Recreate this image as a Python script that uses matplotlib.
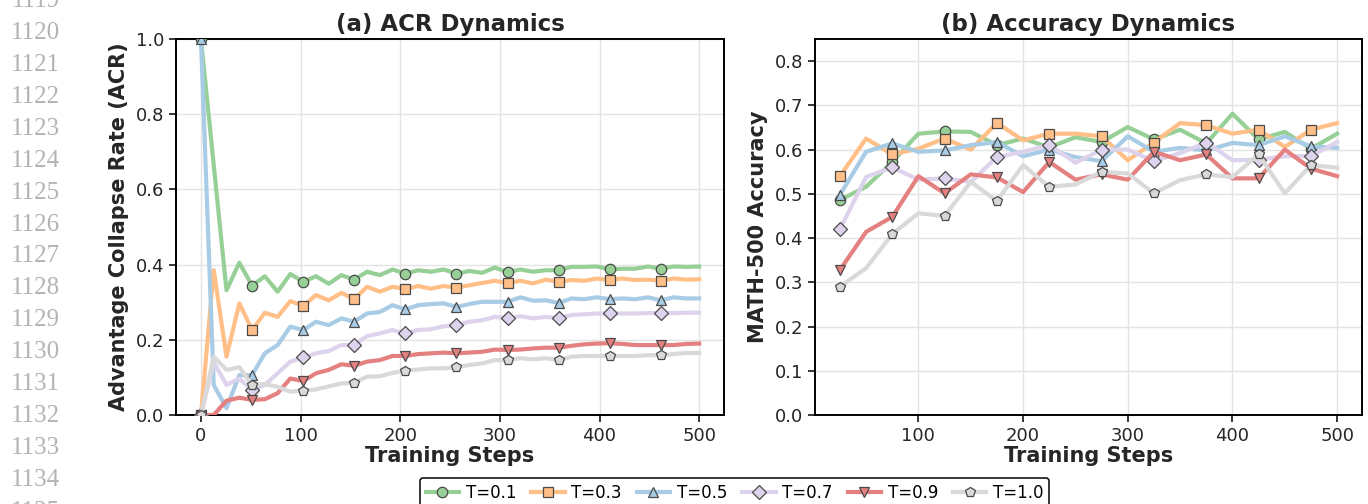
import matplotlib
matplotlib.use("Agg")
import matplotlib.pyplot as plt

plt.rcParams['font.family'] = ['DejaVu Sans']

# ── Data ──────────────────────────────────────────────────────────────────────
acr_steps = [0, 12.8, 25.6, 38.5, 51.3, 64.1, 76.9, 89.7, 102.6, 115.4,
             128.2, 141.0, 153.8, 166.7, 179.5, 192.3, 205.1, 217.9, 230.8, 243.6,
             256.4, 269.2, 282.1, 294.9, 307.7, 320.5, 333.3, 346.2, 359.0, 371.8,
             384.6, 397.4, 410.3, 423.1, 435.9, 448.7, 461.5, 474.4, 487.2, 500]

acr_01 = [1.0, 0.665, 0.332, 0.405, 0.344, 0.369, 0.328, 0.375, 0.354, 0.369,
          0.349, 0.372, 0.360, 0.381, 0.372, 0.387, 0.376, 0.385, 0.381, 0.387,
          0.376, 0.383, 0.378, 0.392, 0.380, 0.387, 0.381, 0.385, 0.385, 0.394,
          0.394, 0.395, 0.387, 0.389, 0.389, 0.395, 0.389, 0.395, 0.394, 0.395]
acr_03 = [0.0, 0.385, 0.155, 0.297, 0.226, 0.272, 0.261, 0.303, 0.290, 0.319,
          0.305, 0.325, 0.308, 0.341, 0.328, 0.341, 0.335, 0.343, 0.336, 0.343,
          0.339, 0.345, 0.351, 0.357, 0.350, 0.357, 0.350, 0.360, 0.354, 0.359,
          0.357, 0.363, 0.359, 0.363, 0.359, 0.360, 0.357, 0.363, 0.360, 0.361]
acr_05 = [1.0, 0.080, 0.018, 0.106, 0.106, 0.164, 0.186, 0.235, 0.226, 0.248,
          0.239, 0.257, 0.248, 0.270, 0.274, 0.292, 0.281, 0.292, 0.295, 0.297,
          0.287, 0.295, 0.301, 0.301, 0.301, 0.313, 0.304, 0.305, 0.298, 0.310,
          0.308, 0.313, 0.308, 0.310, 0.308, 0.313, 0.305, 0.313, 0.310, 0.310]
acr_07 = [0.0, 0.140, 0.080, 0.097, 0.066, 0.080, 0.111, 0.142, 0.153, 0.164,
          0.170, 0.186, 0.186, 0.210, 0.217, 0.226, 0.217, 0.226, 0.228, 0.236,
          0.239, 0.248, 0.252, 0.261, 0.257, 0.263, 0.257, 0.261, 0.257, 0.266,
          0.268, 0.270, 0.270, 0.270, 0.270, 0.271, 0.271, 0.271, 0.272, 0.272]
acr_09 = [0.0, 0.0, 0.038, 0.046, 0.040, 0.042, 0.058, 0.097, 0.090, 0.111,
          0.120, 0.135, 0.131, 0.142, 0.146, 0.157, 0.157, 0.162, 0.164, 0.166,
          0.164, 0.166, 0.168, 0.174, 0.173, 0.174, 0.177, 0.179, 0.179, 0.184,
          0.188, 0.190, 0.191, 0.189, 0.186, 0.186, 0.186, 0.186, 0.189, 0.190]
acr_10 = [0.0, 0.155, 0.120, 0.127, 0.080, 0.082, 0.075, 0.062, 0.065, 0.068,
          0.076, 0.084, 0.086, 0.102, 0.103, 0.112, 0.118, 0.121, 0.124, 0.124,
          0.127, 0.133, 0.137, 0.146, 0.146, 0.151, 0.148, 0.151, 0.146, 0.155,
          0.157, 0.157, 0.157, 0.157, 0.157, 0.159, 0.159, 0.162, 0.165, 0.165]

acc_steps = [25, 50, 75, 100, 125, 150, 175, 200, 225, 250,
             275, 300, 325, 350, 375, 400, 425, 450, 475, 500]

acc_01 = [0.486, 0.516, 0.572, 0.636, 0.641, 0.640, 0.610, 0.625, 0.605, 0.628,
          0.617, 0.651, 0.623, 0.645, 0.614, 0.681, 0.623, 0.640, 0.602, 0.636]
acc_03 = [0.540, 0.625, 0.589, 0.602, 0.625, 0.600, 0.660, 0.621, 0.636, 0.636,
          0.630, 0.576, 0.616, 0.660, 0.655, 0.636, 0.645, 0.606, 0.645, 0.660]
acc_05 = [0.498, 0.595, 0.614, 0.595, 0.598, 0.610, 0.617, 0.585, 0.600, 0.583,
          0.574, 0.630, 0.595, 0.604, 0.598, 0.615, 0.610, 0.630, 0.607, 0.604]
acc_07 = [0.420, 0.538, 0.560, 0.532, 0.535, 0.527, 0.583, 0.595, 0.611, 0.570,
          0.600, 0.600, 0.574, 0.592, 0.616, 0.576, 0.577, 0.585, 0.585, 0.617]
acc_09 = [0.328, 0.414, 0.448, 0.540, 0.501, 0.544, 0.537, 0.504, 0.572, 0.532,
          0.544, 0.532, 0.595, 0.576, 0.589, 0.535, 0.535, 0.600, 0.557, 0.540]
acc_10 = [0.290, 0.332, 0.409, 0.456, 0.450, 0.527, 0.484, 0.565, 0.516, 0.521,
          0.550, 0.546, 0.501, 0.531, 0.544, 0.538, 0.589, 0.501, 0.565, 0.559]

labels = ['T=0.1', 'T=0.3', 'T=0.5', 'T=0.7', 'T=0.9', 'T=1.0']
acr_series = [acr_01, acr_03, acr_05, acr_07, acr_09, acr_10]
acc_series = [acc_01, acc_03, acc_05, acc_07, acc_09, acc_10]

# ── Style ─────────────────────────────────────────────────────────────────────
COLORS  = ['#96d096', '#ffbf87', '#a8cbe6', '#ddd3ec', '#e58080', '#d9d9d9']
MARKERS = ['o', 's', '^', 'D', 'v', 'p']
TXT = '#262626'

fig = plt.figure(figsize=(13.68, 5.04), dpi=100)
ax1 = fig.add_axes([0.1287, 0.1766, 0.4006, 0.7460])
ax2 = fig.add_axes([0.5958, 0.1766, 0.3998, 0.7460])


def style(ax):
    ax.grid(True, color='#e3e3e3', lw=1.0, zorder=0)
    ax.set_axisbelow(True)
    for s in ax.spines.values():
        s.set_color('black')
        s.set_linewidth(1.4)
    ax.tick_params(axis='both', labelsize=13, colors='black', labelcolor=TXT,
                   length=5, width=1.1, direction='out')


for ys, lab, col, mk in zip(acr_series, labels, COLORS, MARKERS):
    ax1.plot(acr_steps, ys, color=col, lw=3.0, marker=mk, markevery=4,
             ms=7.5 if mk != 'D' else 7, markerfacecolor=col,
             markeredgecolor='#4a4a4a', markeredgewidth=0.9, label=lab,
             zorder=3)

for ys, lab, col, mk in zip(acc_series, labels, COLORS, MARKERS):
    ax2.plot(acc_steps, ys, color=col, lw=3.0, marker=mk, markevery=2,
             ms=7.5 if mk != 'D' else 7, markerfacecolor=col,
             markeredgecolor='#4a4a4a', markeredgewidth=0.9, label=lab,
             zorder=3)

style(ax1)
style(ax2)

ax1.set_ylim(0, 1.0)
ax1.set_xlim(-25, 525)
ax1.set_xticks([0, 100, 200, 300, 400, 500])
ax1.set_yticks([0.0, 0.2, 0.4, 0.6, 0.8, 1.0])
ax1.set_title('(a) ACR Dynamics', fontsize=16.5, fontweight='bold', color=TXT, pad=6)
ax1.set_xlabel('Training Steps', fontsize=15, fontweight='bold', color=TXT, labelpad=1)
ax1.set_ylabel('Advantage Collapse Rate (ACR)', fontsize=15, fontweight='bold',
               color=TXT, labelpad=5)

ax2.set_ylim(0, 0.85)
ax2.set_xlim(1.25, 523.75)
ax2.set_xticks([100, 200, 300, 400, 500])
ax2.set_yticks([0.0, 0.1, 0.2, 0.3, 0.4, 0.5, 0.6, 0.7, 0.8])
ax2.set_title('(b) Accuracy Dynamics', fontsize=16.5, fontweight='bold', color=TXT, pad=6)
ax2.set_xlabel('Training Steps', fontsize=15, fontweight='bold', color=TXT, labelpad=1)
ax2.set_ylabel('MATH-500 Accuracy', fontsize=15, fontweight='bold', color=TXT,
               labelpad=5)

handles, labs = ax1.get_legend_handles_labels()
leg = fig.legend(handles, labs, loc='upper center', bbox_to_anchor=(0.537, 0.068),
                 ncol=6, fontsize=12, handlelength=2.0, handletextpad=0.4,
                 columnspacing=0.9, frameon=True, framealpha=1.0,
                 edgecolor='black', borderpad=0.35)
leg.get_frame().set_linewidth(1.1)

# page line numbers in the margin
for k, num in enumerate(range(1119, 1136)):
    fig.text(0.044, 1 - (1 + 31.93 * k) / 504, str(num), ha='right', va='center',
             fontsize=18, color='#b3b3b3', family=['Liberation Serif', 'DejaVu Serif'])

fig.savefig('out.png', dpi=100)
